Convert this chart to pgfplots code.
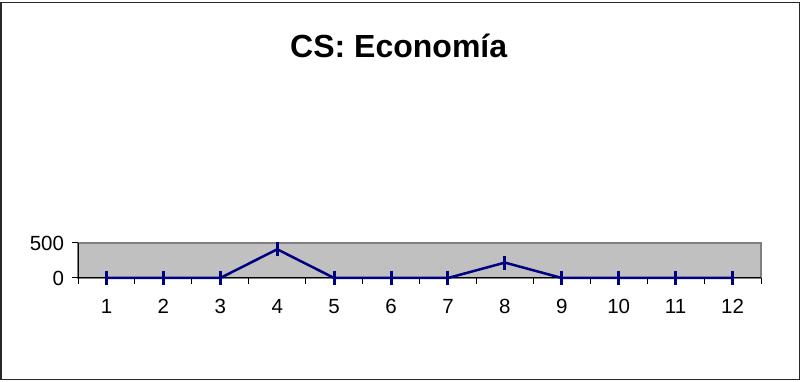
\documentclass[border=0pt]{standalone}
\usepackage{pgfplots}
\pgfplotsset{compat=1.18}
\usepackage{fontspec}
\setmainfont{Liberation Sans}
\definecolor{navyline}{RGB}{0,0,128}
\definecolor{plotgray}{RGB}{192,192,192}
\definecolor{bordergray}{RGB}{128,128,128}
\definecolor{framegray}{RGB}{40,40,40}
\begin{document}
\begin{tikzpicture}[x=1pt,y=1pt]
\useasboundingbox (0,0) rectangle (802,382);
\draw[framegray, line width=1.5pt] (1,2.5) rectangle (799.5,379.5);
\node[anchor=base,font=\fontsize{32}{36}\selectfont\bfseries,inner sep=0pt] at (398.7,324) {CS: Economía};
\begin{axis}[
  at={(78pt,104pt)}, anchor=south west, scale only axis,
  width=683pt, height=35pt,
  xmin=0.5, xmax=12.5, ymin=0, ymax=500,
  axis x line*=bottom, axis y line*=left,
  axis line style={black, line width=1pt},
  axis background/.style={fill=plotgray, draw=bordergray, line width=1.5pt},
  xtick={0.5,1.5,2.5,3.5,4.5,5.5,6.5,7.5,8.5,9.5,10.5,11.5,12.5},
  x tick label as interval,
  xticklabels={1,2,3,4,5,6,7,8,9,10,11,12},
  ytick={0,500},
  tick align=outside, major tick length=6.5pt,
  tick style={black, line width=1pt},
  tick label style={font=\fontsize{20.5}{24}\selectfont},
  /pgf/number format/assume math mode=true,
  x tick label style={yshift=-11.5pt},
  y tick label style={xshift=-4pt},
  clip=false,
]
\addplot[navyline, line width=2.5pt, mark=|, mark size=7pt, mark options={line width=3pt, solid}]
  coordinates {(1,0)(2,0)(3,0)(4,410)(5,0)(6,0)(7,0)(8,220)(9,0)(10,0)(11,0)(12,0)};
\end{axis}
\end{tikzpicture}
\end{document}
